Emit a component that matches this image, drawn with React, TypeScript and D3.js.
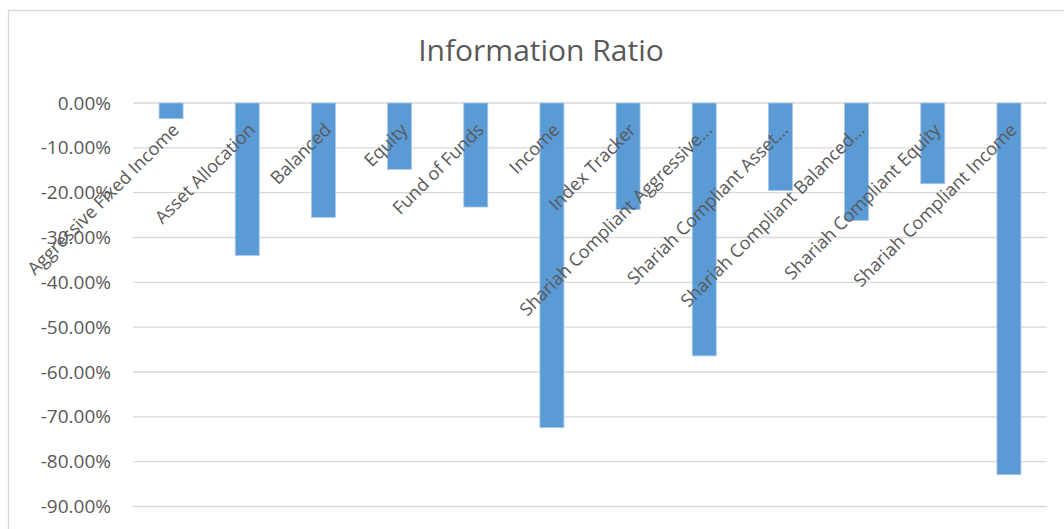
import React from "react";
import * as d3 from "d3";

const categories: string[] = [
  "Aggressive Fixed Income",
  "Asset Allocation",
  "Balanced",
  "Equity",
  "Fund of Funds",
  "Income",
  "Index Tracker",
  "Shariah Compliant Aggressive...",
  "Shariah Compliant Asset...",
  "Shariah Compliant Balanced...",
  "Shariah Compliant Equity",
  "Shariah Compliant Income",
];

const informationRatio: number[] = [
  -0.035, -0.34, -0.255, -0.148, -0.232, -0.724, -0.238, -0.564, -0.195, -0.262, -0.18, -0.829,
];

const yTicks: number[] = [0, -0.1, -0.2, -0.3, -0.4, -0.5, -0.6, -0.7, -0.8, -0.9];

const title = "Information Ratio";

const W = 1064;
const H = 529;
const plotLeft = 133;
const plotRight = 1047;
const yTop = 103;
const yBottom = 506.5;
const FONT = "'Open Sans', 'Noto Sans', sans-serif";
const TEXT = "#595959";
const GRID = "#d9d9d9";
const BAR = "#5b9bd5";

export default function App() {
  const x = d3
    .scaleBand<string>()
    .domain(categories)
    .range([plotLeft, plotRight])
    .paddingInner(0.685)
    .paddingOuter(0.3425);
  const y = d3.scaleLinear().domain([0, -0.9]).range([yTop, yBottom]);
  const fmt0 = d3.format(".2%");
  const fmt = (v: number) => fmt0(v).replace("\u2212", "-");

  return (
    <svg
      width={W}
      height={H}
      style={{ position: "absolute", left: 0, top: 0, background: "#fff" }}
      fontFamily={FONT}
    >
      <rect x={0} y={0} width={W} height={H} fill="#fff" />
      <rect x={8.5} y={10.5} width={1100} height={600} fill="none" stroke={GRID} strokeWidth={1.3} />
      <text x={541} y={61} textAnchor="middle" fontSize={30} fill={TEXT}>
        {title}
      </text>
      {yTicks.map((t) => (
        <g key={t}>
          <line x1={plotLeft} x2={plotRight} y1={y(t)} y2={y(t)} stroke={GRID} strokeWidth={1.4} />
          <text
            x={111}
            y={y(t)}
            dy="0.35em"
            textAnchor="end"
            fontSize={19}
            fill={TEXT}
          >
            {fmt(t)}
          </text>
        </g>
      ))}
      {categories.map((c, i) => {
        const v = informationRatio[i];
        const x0 = x(c) as number;
        return (
          <rect
            key={c}
            x={x0}
            y={y(0)}
            width={x.bandwidth()}
            height={y(v) - y(0)}
            fill={BAR}
            stroke="#a9c8ea"
            strokeWidth={0.8}
          />
        );
      })}
      {categories.map((c) => {
        const cx = (x(c) as number) + x.bandwidth() / 2;
        const lx = cx + 9;
        const ly = 131;
        return (
          <text
            key={"l" + c}
            x={lx}
            y={ly}
            textAnchor="end"
            fontSize={18}
            fill={TEXT}
            transform={`rotate(-45 ${lx} ${ly})`}
          >
            {c}
          </text>
        );
      })}
    </svg>
  );
}
